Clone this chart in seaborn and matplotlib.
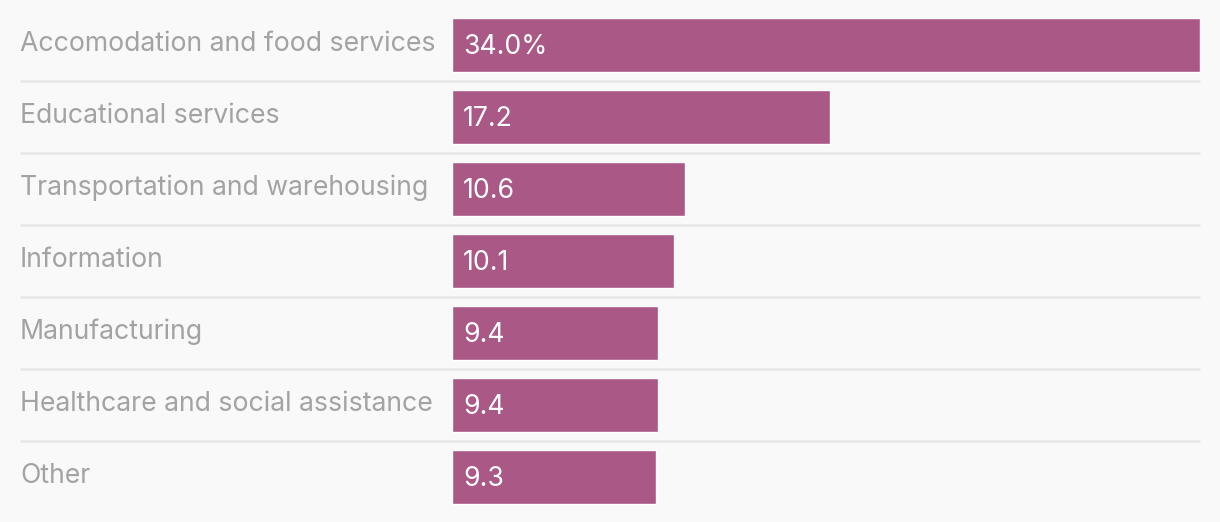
import matplotlib.pyplot as plt
import pandas as pd
import seaborn as sns

categories = [
    "Accomodation and food services",
    "Educational services",
    "Transportation and warehousing",
    "Information",
    "Manufacturing",
    "Healthcare and social assistance",
    "Other",
]
values = [34.0, 17.2, 10.6, 10.1, 9.4, 9.4, 9.3]
value_labels = ["34.0%", "17.2", "10.6", "10.1", "9.4", "9.4", "9.3"]

BG = "#f9f9f9"
BAR = "#aa5886"
LABEL = "#a3a3a3"
GRID = "#e9e9e9"

sns.set_theme(style="white")
plt.rcParams["font.family"] = ["Inter", "DejaVu Sans"]

df = pd.DataFrame({"category": categories, "value": values})

W, H = 1220, 522
fig = plt.figure(figsize=(W / 100, H / 100), dpi=100, facecolor=BG)
ax = fig.add_axes([451.5 / W, 9 / H, 748.5 / W, 504 / H])
ax.set_facecolor(BG)

sns.barplot(data=df, x="value", y="category", orient="h", color=BAR,
            saturation=1, width=0.75, ax=ax)

ax.set_xlim(0, 34.0)
ax.set_ylim(len(categories) - 0.5, -0.5)
ax.set_xticks([])
ax.set_yticks([])
ax.set_xlabel("")
ax.set_ylabel("")
for s in ax.spines.values():
    s.set_visible(False)

left_frac = (20 - 451.5) / 748.5
ytrans = ax.get_yaxis_transform()
for i in range(len(categories) - 1):
    ax.plot([left_frac, 1], [i + 0.5, i + 0.5], transform=ytrans, color=GRID,
            lw=2, clip_on=False, solid_capstyle="butt")

for i, (cat, lab) in enumerate(zip(categories, value_labels)):
    ax.text(left_frac, i - 0.02, cat, transform=ytrans, ha="left", va="center",
            color=LABEL, fontsize=19.2)
    ax.text(11.5 / 748.5, i + 0.03, lab, transform=ytrans, ha="left", va="center",
            color="white", fontsize=19.2)

fig.savefig("out.png", dpi=100, facecolor=BG)
